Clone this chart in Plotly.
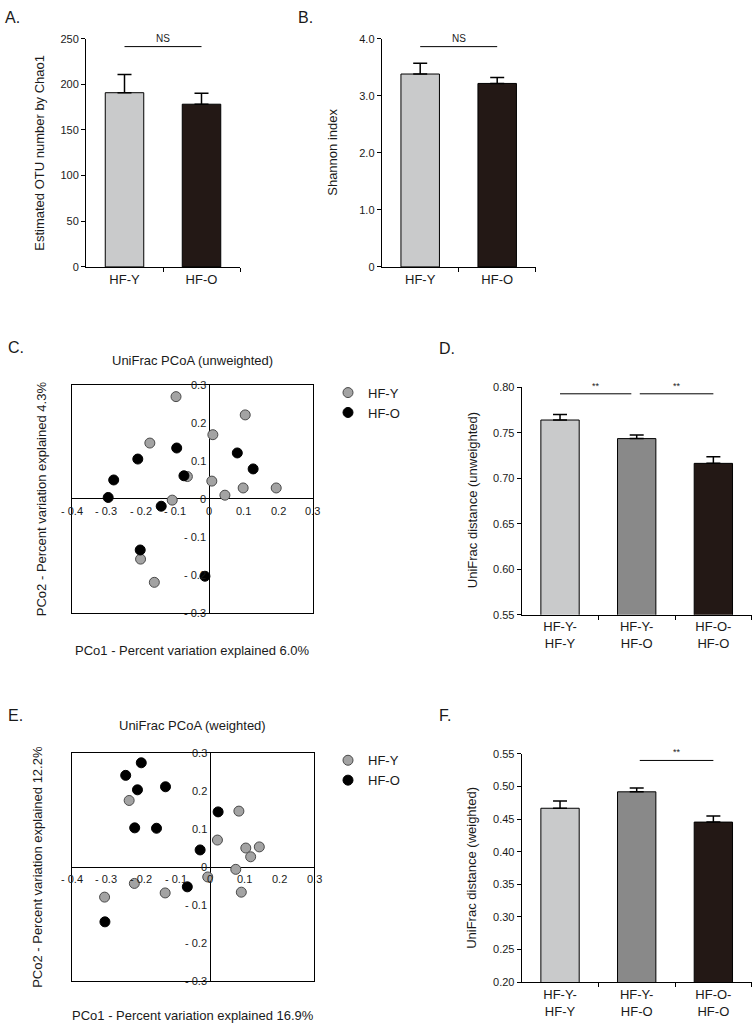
import plotly.graph_objects as go

W, H = 755, 1031
FONT = "Liberation Sans, Arial, sans-serif"
TXT = "#1a1a1a"

# ---------------- data ----------------
groups = ["HF-Y", "HF-O"]
chao1_mean = [190.8, 178.2]
chao1_sem = [19.9, 12.0]
shannon_mean = [3.38, 3.215]
shannon_sem = [0.19, 0.105]

pair_labels = ["HF-Y-<br>HF-Y", "HF-Y-<br>HF-O", "HF-O-<br>HF-O"]
unw_mean = [0.764, 0.7436, 0.7164]
unw_sem = [0.006, 0.004, 0.0073]
w_mean = [0.4667, 0.4919, 0.4455]
w_sem = [0.011, 0.006, 0.0095]

group_colors = ["#c9cacb", "#231815"]
pair_colors = ["#c9cacb", "#898989", "#231815"]

# unweighted PCoA
unw_y_x = [-0.097, 0.104, 0.010, -0.173, -0.064, 0.007, 0.098, 0.194, 0.045, -0.108, -0.200, -0.160]
unw_y_y = [0.269, 0.221, 0.169, 0.147, 0.059, 0.047, 0.029, 0.029, 0.010, -0.003, -0.158, -0.219]
unw_o_x = [-0.095, -0.208, 0.081, 0.127, -0.278, -0.074, -0.294, -0.140, -0.201, -0.013]
unw_o_y = [0.134, 0.105, 0.121, 0.079, 0.050, 0.061, 0.004, -0.019, -0.134, -0.203]

# weighted PCoA
w_y_x = [-0.234, 0.083, 0.021, 0.103, 0.142, 0.117, 0.074, -0.007, -0.219, -0.130, 0.090, -0.305]
w_y_y = [0.175, 0.147, 0.071, 0.050, 0.053, 0.027, -0.006, -0.026, -0.043, -0.068, -0.066, -0.079]
w_o_x = [-0.199, -0.244, -0.210, -0.129, -0.218, -0.155, 0.023, -0.029, -0.066, -0.304]
w_o_y = [0.274, 0.241, 0.203, 0.211, 0.103, 0.102, 0.145, 0.045, -0.052, -0.144]

pcoa_xticks = [-0.4, -0.3, -0.2, -0.1, 0, 0.1, 0.2, 0.3]
pcoa_xtext = ["- 0.4", "- 0.3", "- 0.2", "- 0.1", "0", "0.1", "0.2", "0.3"]
pcoa_yticks = [0.3, 0.2, 0.1, 0, -0.1, -0.2, -0.3]
pcoa_ytext = ["0.3", "0.2", "0.1", "0", "- 0.1", "- 0.2", "- 0.3"]

chao_ticks = [0, 50, 100, 150, 200, 250]
shannon_ticks = [0, 1, 2, 3, 4]
shannon_text = ["0", "1.0", "2.0", "3.0", "4.0"]
unw_ticks = [0.55, 0.60, 0.65, 0.70, 0.75, 0.80]
w_ticks = [0.20, 0.25, 0.30, 0.35, 0.40, 0.45, 0.50, 0.55]

# significance brackets: (x0, x1, y, label)
sig_A = [(0, 1, 241.3, "NS")]
sig_B = [(0, 1, 3.86, "NS")]
sig_D = [(0, 0.93, 0.7928, "**"), (1.04, 2.0, 0.7928, "**")]
sig_F = [(1.04, 2.0, 0.540, "**")]


def px_x(p):
    return p / W


def px_dom_y(top, bottom):
    return [1 - bottom / H, 1 - top / H]


fig = go.Figure()


def bar_axes(n, xd, yd, yrange, tickvals, ticktext, labels, xname, yname):
    xa = dict(domain=[px_x(xd[0]), px_x(xd[1])], range=[-0.5, n - 0.5], anchor=yname,
              showline=True, linecolor="black", linewidth=1, showgrid=False, zeroline=False,
              tickmode="array", tickvals=list(range(n)), ticktext=labels, ticks="",
              ticklabeloverflow="allow",
              tickfont=dict(family=FONT, size=13, color=TXT),
              minor=dict(tickmode="array", tickvals=[i + 0.5 for i in range(n)], ticks="outside",
                         ticklen=4, tickcolor="black", tickwidth=1),
              fixedrange=True)
    ya = dict(domain=px_dom_y(yd[0], yd[1]), range=yrange, anchor=xname,
              showline=True, linecolor="black", linewidth=1, showgrid=False, zeroline=False,
              tickmode="array", tickvals=tickvals, ticktext=ticktext, ticks="outside",
              ticklen=4, tickcolor="black", tickwidth=1, ticklabeloverflow="allow",
              tickfont=dict(family=FONT, size=11, color=TXT), fixedrange=True)
    return xa, ya


def scatter_axes(xd, yd, xname, yname):
    common = dict(showline=True, mirror=True, linecolor="black", linewidth=1, showgrid=False,
                  zeroline=True, zerolinecolor="black", zerolinewidth=1, showticklabels=False,
                  ticks="", fixedrange=True)
    xa = dict(domain=[px_x(xd[0]), px_x(xd[1])], range=[-0.4, 0.3], anchor=yname, **common)
    ya = dict(domain=px_dom_y(yd[0], yd[1]), range=[-0.3, 0.3], anchor=xname, **common)
    return xa, ya


xa1, ya1 = bar_axes(2, (86, 240), (33, 264), [0, 250.05], chao_ticks,
                    [str(v) for v in chao_ticks], groups, "x", "y")
xa2, ya2 = bar_axes(2, (381.7, 535.7), (33, 264), [0, 4.0005], shannon_ticks,
                    shannon_text, groups, "x2", "y2")
xa3, ya3 = scatter_axes((71.7, 312.7), (383.3, 614.3), "x3", "y3")
xa4, ya4 = bar_axes(3, (521.7, 751.7), (385.7, 616), [0.55, 0.80005], unw_ticks,
                    ["%.2f" % v for v in unw_ticks], pair_labels, "x4", "y4")
xa5, ya5 = scatter_axes((71.7, 314), (755.7, 986.7), "x5", "y5")
xa6, ya6 = bar_axes(3, (521.7, 751.7), (756.7, 987.7), [0.20, 0.55005], w_ticks,
                    ["%.2f" % v for v in w_ticks], pair_labels, "x6", "y6")


def add_bars(xref, yref, means, sems, colors):
    fig.add_trace(go.Bar(
        x=list(range(len(means))), y=means, width=0.5,
        marker=dict(color=colors, line=dict(color="black", width=1)),
        error_y=dict(type="data", symmetric=False, array=sems, arrayminus=[0] * len(sems),
                     color="black", thickness=1.5, width=7),
        xaxis=xref, yaxis=yref, showlegend=False, hoverinfo="skip"))


add_bars("x", "y", chao1_mean, chao1_sem, group_colors)
add_bars("x2", "y2", shannon_mean, shannon_sem, group_colors)
add_bars("x4", "y4", unw_mean, unw_sem, pair_colors)
add_bars("x6", "y6", w_mean, w_sem, pair_colors)

gray_marker = dict(color="#a3a3a3", size=10, line=dict(color="#4a4a4a", width=1))
black_marker = dict(color="black", size=10, line=dict(color="black", width=1))

fig.add_trace(go.Scatter(x=unw_y_x, y=unw_y_y, mode="markers", name="HF-Y", marker=gray_marker,
                         xaxis="x3", yaxis="y3", legend="legend", cliponaxis=False))
fig.add_trace(go.Scatter(x=unw_o_x, y=unw_o_y, mode="markers", name="HF-O", marker=black_marker,
                         xaxis="x3", yaxis="y3", legend="legend", cliponaxis=False))
fig.add_trace(go.Scatter(x=w_y_x, y=w_y_y, mode="markers", name="HF-Y", marker=gray_marker,
                         xaxis="x5", yaxis="y5", legend="legend2", cliponaxis=False))
fig.add_trace(go.Scatter(x=w_o_x, y=w_o_y, mode="markers", name="HF-O", marker=black_marker,
                         xaxis="x5", yaxis="y5", legend="legend2", cliponaxis=False))

annotations = []
shapes = []

for ax in ("3", "5"):
    xr, yr = "x" + ax, "y" + ax
    for v, t in zip(pcoa_xticks, pcoa_xtext):
        annotations.append(dict(x=v, y=0, xref=xr, yref=yr, text=t, showarrow=False,
                                xanchor="center", yanchor="middle", yshift=-12,
                                font=dict(family=FONT, size=11, color=TXT)))
    for v, t in zip(pcoa_yticks, pcoa_ytext):
        annotations.append(dict(x=0, y=v, xref=xr, yref=yr, text=t, showarrow=False,
                                xanchor="right", yanchor="middle", xshift=-1,
                                font=dict(family=FONT, size=11, color=TXT)))

for (xr, yr, sigs) in (("x", "y", sig_A), ("x2", "y2", sig_B), ("x4", "y4", sig_D), ("x6", "y6", sig_F)):
    for x0, x1, yv, lab in sigs:
        shapes.append(dict(type="line", xref=xr, yref=yr, x0=x0, x1=x1, y0=yv, y1=yv,
                           line=dict(color="black", width=1)))
        annotations.append(dict(x=(x0 + x1) / 2, y=yv, xref=xr, yref=yr, text=lab, showarrow=False,
                                xanchor="center", yanchor="bottom", yshift=1,
                                font=dict(family=FONT, size=10 if lab == "NS" else 9, color=TXT)))


def ptext(x, y, text, size=13, angle=0, xanchor="center"):
    annotations.append(dict(x=x / W, y=1 - y / H, xref="paper", yref="paper", text=text,
                            showarrow=False, xanchor=xanchor, yanchor="middle", textangle=angle,
                            font=dict(family=FONT, size=size, color=TXT)))


ptext(3, 12, "A.", 16, xanchor="left")
ptext(296, 12, "B.", 16, xanchor="left")
ptext(6, 346, "C.", 16, xanchor="left")
ptext(437, 347, "D.", 16, xanchor="left")
ptext(6, 718, "E.", 16, xanchor="left")
ptext(437, 718, "F.", 16, xanchor="left")

ptext(40, 148.5, "Estimated OTU number by Chao1", 13, -90)
ptext(333, 148.5, "Shannon index", 13, -90)
ptext(192, 359, "UniFrac PCoA (unweighted)", 13)
ptext(41, 499, "PCo2 - Percent variation explained 4.3%", 13, -90)
ptext(192, 652, "PCo1 - Percent variation explained 6.0%", 13)
ptext(472, 500, "UniFrac distance (unweighted)", 13, -90)
ptext(192, 728, "UniFrac PCoA (weighted)", 13)
ptext(38, 871, "PCo2 - Percent variation explained 12.2%", 13, -90)
ptext(193, 1021, "PCo1 - Percent variation explained 16.9%", 13)
ptext(472, 872, "UniFrac distance (weighted)", 13, -90)

legend_common = dict(font=dict(family=FONT, size=13, color=TXT), bgcolor="rgba(0,0,0,0)",
                     borderwidth=0, tracegroupgap=0, xanchor="left", yanchor="top",
                     itemclick=False, itemdoubleclick=False)

fig.update_layout(
    width=W, height=H, margin=dict(l=0, r=0, t=0, b=0),
    paper_bgcolor="white", plot_bgcolor="white",
    font=dict(family=FONT, size=12, color=TXT),
    xaxis=xa1, yaxis=ya1, xaxis2=xa2, yaxis2=ya2, xaxis3=xa3, yaxis3=ya3,
    xaxis4=xa4, yaxis4=ya4, xaxis5=xa5, yaxis5=ya5, xaxis6=xa6, yaxis6=ya6,
    bargap=0,
    legend=dict(x=328 / W, y=1 - 376 / H, **legend_common),
    legend2=dict(x=328 / W, y=1 - 748 / H, **legend_common),
    annotations=annotations, shapes=shapes,
)

fig.write_html(
    "out.html",
    config={"displayModeBar": False, "staticPlot": True},
    post_script="document.body.style.margin='0';document.body.style.overflow='hidden';",
)
